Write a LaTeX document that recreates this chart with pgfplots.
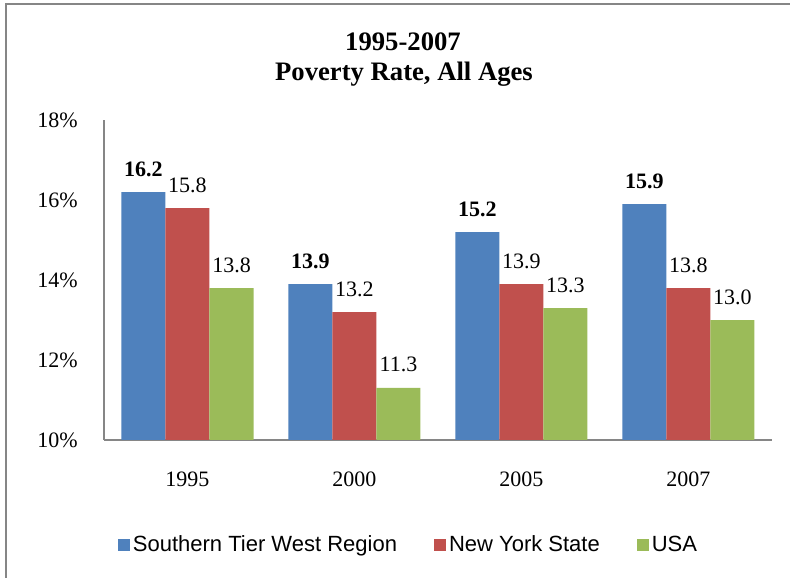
\documentclass[border=0pt]{standalone}
\usepackage{fontspec}
\setmainfont{Liberation Serif}
\newfontfamily\sansf{Liberation Sans}
\usepackage{pgfplots}
\pgfplotsset{compat=1.18}
\definecolor{sblue}{HTML}{4F81BD}
\definecolor{sred}{HTML}{C0504D}
\definecolor{sgreen}{HTML}{9BBB59}
\definecolor{axgray}{HTML}{868686}
\newcommand\fs{\fontsize{16.5pt}{19.8pt}\selectfont}

\begin{document}
\begin{tikzpicture}[x=0.75pt,y=0.75pt]
\useasboundingbox (0,0) rectangle (790,578);
% chart frame (only left and top edges are visible)
\draw[axgray, line width=1.5pt] (6,-2) -- (6,574) -- (792,574);
\node[anchor=base, font=\fontsize{20pt}{24pt}\selectfont\bfseries] at (403,527) {1995-2007};
\node[anchor=base, font=\fontsize{20pt}{24pt}\selectfont\bfseries] at (404,497) {Poverty Rate, All Ages};
\begin{axis}[
    at={(78pt,103.5pt)}, anchor=south west,
    width=501pt, height=240pt, scale only axis,
    ymin=10, ymax=18, ytick={10,12,14,16,18},
    xmin=-0.5, xmax=3.5, xtick={0,1,2,3},
    xticklabels={1995,2000,2005,2007},
    axis x line=bottom, axis y line=left,
    axis line style={-, draw=axgray, line width=1.5pt},
    major tick length=0pt,
    /pgf/number format/assume math mode=true,
    yticklabel={\pgfmathprintnumber{\tick}\%},
    tick label style={font=\fs, inner sep=0pt},
    xticklabel style={anchor=base, yshift=-35.25pt},
    yticklabel style={anchor=east, xshift=-19.5pt},
    ybar, bar width=33pt,
    nodes near coords={\pgfmathprintnumber[fixed,fixed zerofill,precision=1,assume math mode=true]{\pgfplotspointmeta}},
    nodes near coords style={font=\fs, anchor=base, yshift=12pt, inner sep=0pt},
    clip=false,
    legend columns=3,
    legend style={at={(0.4566,-0.328)}, anchor=center, draw=none,
        font=\sansf\fs, nodes={inner xsep=2pt, inner ysep=0pt},
        /tikz/every even column/.append style={column sep=26pt}},
    legend image code/.code={\fill[#1] (0pt,-4.5pt) rectangle (9pt,4.5pt);},
]
\addplot[fill=sblue, draw=none, bar shift=-33pt,
    every node near coord/.append style={font=\fs\bfseries}]
    coordinates {(0,16.2) (1,13.9) (2,15.2) (3,15.9)};
\addplot[fill=sred, draw=none, bar shift=0pt]
    coordinates {(0,15.8) (1,13.2) (2,13.9) (3,13.8)};
\addplot[fill=sgreen, draw=none, bar shift=33pt]
    coordinates {(0,13.8) (1,11.3) (2,13.3) (3,13.0)};
\legend{Southern Tier West Region, New York State, USA}
\end{axis}
\end{tikzpicture}
\end{document}
